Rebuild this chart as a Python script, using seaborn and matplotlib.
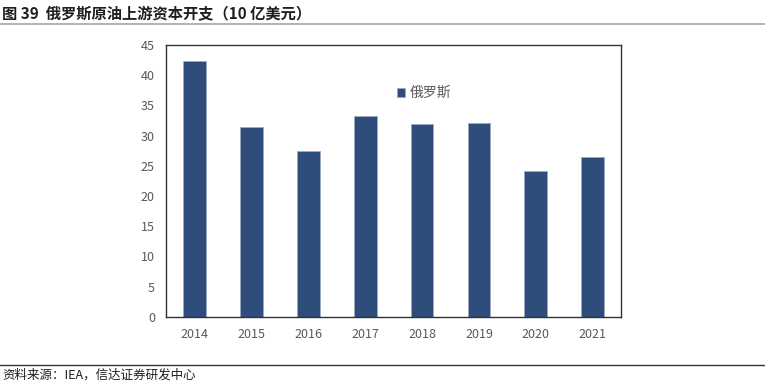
import matplotlib
matplotlib.use('Agg')
import matplotlib.pyplot as plt
import seaborn as sns
import pandas as pd

years = ['2014', '2015', '2016', '2017', '2018', '2019', '2020', '2021']
capex = [42.4, 31.4, 27.5, 33.3, 32.0, 32.1, 24.2, 26.5]
series_name = '俄罗斯'
title = '图 39  俄罗斯原油上游资本开支（10 亿美元）'
source = '资料来源：IEA，信达证券研发中心'

sns.set_style('white')
plt.rcParams['font.family'] = ['Noto Sans CJK SC', 'DejaVu Sans']

df = pd.DataFrame({'year': years, 'value': capex, 'series': series_name})

fig = plt.figure(figsize=(7.65, 3.85), dpi=100)
ax = fig.add_axes([0.217, 0.177, 0.595, 0.706])

sns.barplot(data=df, x='year', y='value', hue='series', palette=['#2F4D7B'],
            saturation=1, width=0.4, ax=ax, edgecolor='#9AAAC4', linewidth=0.6)

ax.set_ylim(0, 45)
ax.set_yticks(range(0, 46, 5))
ax.set_xlabel('')
ax.set_ylabel('')
ax.tick_params(axis='both', colors='#595959', labelsize=9, length=0, pad=8)
for s in ax.spines.values():
    s.set_visible(True)
    s.set_color('#333333')
    s.set_linewidth(1.0)

leg = ax.legend(loc='upper left', bbox_to_anchor=(0.48, 0.895), frameon=False,
                fontsize=10, handlelength=0.6, handleheight=0.6, handletextpad=0.3)
for t in leg.get_texts():
    t.set_color('#595959')

fig.text(0.003, 0.962, title, fontsize=11, fontweight='bold', color='#1F1F1F',
         va='center', ha='left')
fig.add_artist(plt.Line2D([0, 1], [0.937, 0.937], color='#A6A6A6', linewidth=1.2))
fig.add_artist(plt.Line2D([0, 1], [0.052, 0.052], color='#333333', linewidth=1.0))
fig.text(0.003, 0.026, source, fontsize=9, style='italic', color='#1F1F1F',
         va='center', ha='left')

fig.savefig('out.png', dpi=100)
